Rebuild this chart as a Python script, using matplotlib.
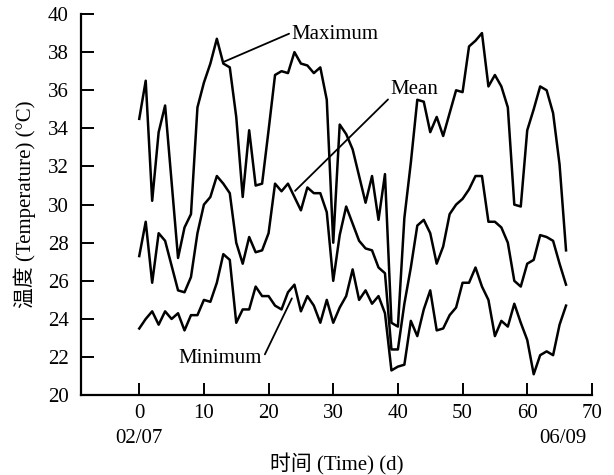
import numpy as np
import matplotlib
matplotlib.use('Agg')
import matplotlib.pyplot as plt

plt.rcParams['font.family'] = ['Liberation Serif', 'Noto Sans CJK SC']
plt.rcParams['font.size'] = 15

days = np.arange(0, 67)

t_max = [34.5, 36.5, 30.2, 33.8, 35.2, 31.2, 27.2, 28.8, 29.5, 35.1,
         36.4, 37.4, 38.7, 37.4, 37.2, 34.6, 30.4, 33.9, 31.0, 31.1,
         33.9, 36.8, 37.0, 36.9, 38.0, 37.4, 37.3, 36.9, 37.2, 35.5,
         28.0, 34.2, 33.7, 32.9, 31.5, 30.1, 31.5, 29.2, 31.6, 23.8,
         23.6, 29.3, 32.2, 35.5, 35.4, 33.8, 34.6, 33.6, 34.8, 36.0,
         35.9, 38.3, 38.6, 39.0, 36.2, 36.8, 36.2, 35.1, 30.0, 29.9,
         33.9, 35.0, 36.2, 36.0, 34.8, 32.1, 27.6]

t_mean = [27.3, 29.1, 25.9, 28.5, 28.1, 26.8, 25.5, 25.4, 26.2, 28.5,
          30.0, 30.4, 31.5, 31.1, 30.6, 28.0, 26.9, 28.3, 27.5, 27.6,
          28.5, 31.1, 30.7, 31.1, 30.4, 29.7, 30.9, 30.6, 30.6, 29.6,
          26.0, 28.4, 29.9, 29.0, 28.1, 27.7, 27.6, 26.7, 26.4, 22.4,
          22.4, 24.8, 26.7, 28.9, 29.2, 28.5, 26.9, 27.8, 29.5, 30.0,
          30.3, 30.8, 31.5, 31.5, 29.1, 29.1, 28.8, 28.0, 26.0, 25.7,
          26.9, 27.1, 28.4, 28.3, 28.1, 26.9, 25.8]

t_min = [23.5, 24.0, 24.4, 23.7, 24.4, 24.0, 24.3, 23.4, 24.2, 24.2,
         25.0, 24.9, 25.9, 27.4, 27.1, 23.8, 24.5, 24.5, 25.7, 25.2,
         25.2, 24.7, 24.5, 25.4, 25.8, 24.4, 25.2, 24.7, 23.8, 25.0,
         23.8, 24.6, 25.2, 26.6, 25.0, 25.5, 24.8, 25.2, 24.3, 21.3,
         21.5, 21.6, 23.9, 23.1, 24.5, 25.5, 23.4, 23.5, 24.2, 24.6,
         25.9, 25.9, 26.7, 25.7, 25.0, 23.1, 23.9, 23.6, 24.8, 23.8,
         22.9, 21.1, 22.1, 22.3, 22.1, 23.7, 24.7]

fig = plt.figure(figsize=(6.14, 4.75), dpi=100)
ax = fig.add_axes([0.132, 0.168, 0.832, 0.8025])

for s in [t_max, t_mean, t_min]:
    ax.plot(days, s, color='black', lw=1.8)

ax.set_xlim(-9, 70)
ax.set_ylim(20, 40)
ax.set_xticks(np.arange(0, 71, 10))
ax.set_yticks(np.arange(20, 41, 2))
ax.spines['top'].set_visible(False)
ax.spines['right'].set_visible(False)
for sp in ['left', 'bottom']:
    ax.spines[sp].set_linewidth(1.6)
ax.tick_params(direction='in', length=9, width=1.4, labelsize=15)
ax.tick_params(axis='x', pad=6)
ax.tick_params(axis='y', pad=9)

# dates under the day numbers
ax.text(0, -0.113, '02/07', transform=ax.get_xaxis_transform(), ha='center', va='center')
ax.text(65.5, -0.113, '06/09', transform=ax.get_xaxis_transform(), ha='center', va='center')

ax.set_xlabel('时间 (Time) (d)', labelpad=22)
ax.set_ylabel('温度 (Temperature) (°C)', labelpad=8)

lp = dict(arrowstyle='-', color='black', lw=1.3, shrinkA=0, shrinkB=0)
ax.annotate('Maximum', xy=(13.0, 37.48), xytext=(23.6, 38.93), ha='left', va='center',
            arrowprops=dict(lp, relpos=(0, 0.6)))
ax.annotate('Mean', xy=(24.1, 30.72), xytext=(38.9, 36.06), ha='left', va='center',
            arrowprops=dict(lp, relpos=(0, 0.1)))
ax.annotate('Minimum', xy=(23.6, 25.08), xytext=(19.0, 21.94), ha='right', va='center',
            arrowprops=dict(lp, relpos=(1, 0.4)))

fig.savefig('out.png', dpi=100)
